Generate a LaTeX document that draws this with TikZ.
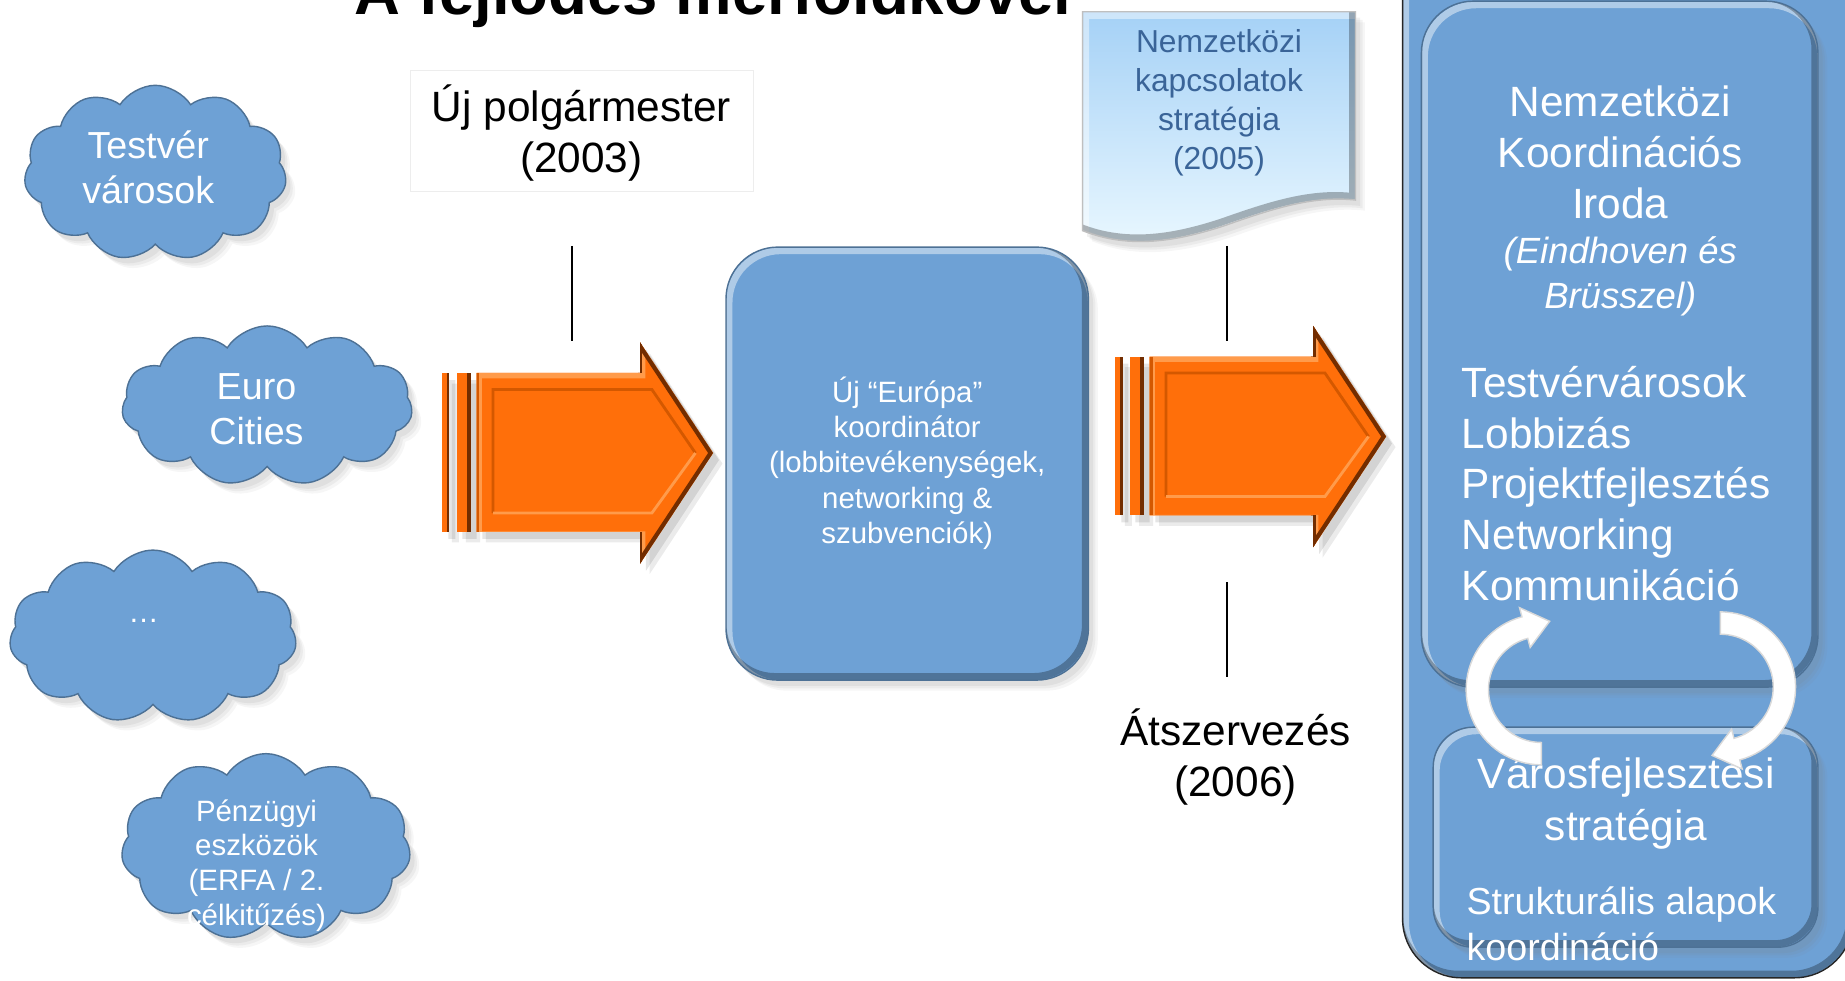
\documentclass[tikz,border=0pt]{standalone}
\usepackage{fontspec}
\setmainfont{Liberation Sans}
\usetikzlibrary{shapes.symbols,shadows}
\definecolor{cblue}{RGB}{110,161,213}
\definecolor{orng}{RGB}{255,111,10}
\definecolor{obrown}{RGB}{115,45,0}
\definecolor{odark}{RGB}{212,88,0}
\definecolor{olight}{RGB}{255,155,75}
\definecolor{doctop}{RGB}{165,209,246}
\definecolor{docbot}{RGB}{234,248,255}
\definecolor{doctext}{RGB}{58,100,152}
\newcommand\fsz[2]{\fontsize{#1}{#2}\selectfont}
\tikzset{
  softsh/.style={drop shadow={opacity=0.07,shadow xshift=4pt,shadow yshift=-4.5pt},
                 drop shadow={opacity=0.09,shadow xshift=3pt,shadow yshift=-3.5pt},
                 drop shadow={opacity=0.11,shadow xshift=2pt,shadow yshift=-2.5pt}},
  cloudsh/.style={cloud,cloud puffs=11,cloud puff arc=115,cloud ignores aspect,inner sep=0pt,outer sep=0pt},
  wtxt/.style={text=white,align=center,inner sep=0pt},
}
% bevelled shape: fill options, border colour, path
\newcommand\bevel[3]{%
  \fill[#1] #3;
  \begin{scope}
    \clip #3;
    \draw[white,opacity=0.45,line width=3pt,shift={(2.5,3)}] #3;
    \draw[black,opacity=0.28,line width=3pt,shift={(-2.5,-3)}] #3;
  \end{scope}
  \draw[#2,line width=0.6pt] #3;}
% bevelled cloud: name, centre x,y, width, height
\newcommand\bcloud[4]{%
  \node[cloudsh,softsh,minimum width=#3,minimum height=#4,fill=cblue,draw=cblue!70!black,line width=0.6pt,
    path picture={
      \node[cloudsh,minimum width=#3,minimum height=#4,draw=white,draw opacity=0.45,line width=3pt] (#1hl) at ([shift={(2.5,3)}]#2) {};
      \node[cloudsh,minimum width=#3,minimum height=#4,draw=black,draw opacity=0.28,line width=3pt] (#1dk) at ([shift={(-2.5,-3)}]#2) {};
    }] (#1) at (#2) {};}
\tikzset{oarrow/.pic={
  \fill[black,opacity=0.08,shift={(8,9)}] (405,317) -- (544,317) -- (544,291) -- (606,385) -- (544,479) -- (544,452) -- (405,452) -- cycle (376,317) rectangle (382,452) (388,317) rectangle (400,452);
  \fill[black,opacity=0.1,shift={(5,6)}] (405,317) -- (544,317) -- (544,291) -- (606,385) -- (544,479) -- (544,452) -- (405,452) -- cycle (376,317) rectangle (382,452) (388,317) rectangle (400,452);
  \fill[orng] (376,317) rectangle (382,452);
  \fill[obrown] (379.5,317) rectangle (382,452);
  \fill[orng] (388,317) rectangle (400,452);
  \fill[obrown] (396.5,317) rectangle (400,452);
  \fill[orng] (405,317) -- (544,317) -- (544,291) -- (606,385) -- (544,479) -- (544,452) -- (405,452) -- cycle;
  \begin{scope}
    \clip (405,317) -- (544,317) -- (544,291) -- (606,385) -- (544,479) -- (544,452) -- (405,452) -- cycle;
    \draw[olight,line width=2.5pt,shift={(2,2)}] (405,317) -- (544,317) -- (544,291) -- (606,385) -- (544,479) -- (544,452) -- (405,452) -- cycle;
    \draw[odark,line width=2.5pt] (405,317) -- (405,452);
    \draw[obrown,line width=3.5pt] (544,291) -- (606,385) -- (544,479);
    \draw[obrown,line width=2pt] (544,291) -- (544,317) (544,452) -- (544,479);
  \end{scope}
  \draw[odark,line width=1.2pt] (419,436) -- (419,331) -- (554,331) -- (591,385);
  \draw[olight,line width=1.2pt] (591,385) -- (554,436) -- (419,436);
  \coordinate (-tip) at (606,385);
}}
\newcommand\warrow{%
  \fill[white,draw=black!15,line width=0.6pt] plot[domain=90:255,samples=40] ({1310+64*cos(\x)},{586+64*sin(\x)})
    -- ({1310+72*cos(255)},{586+72*sin(255)}) -- (1317,528) -- ({1310+37*cos(255)},{586+37*sin(255)})
    -- plot[domain=255:90,samples=40] ({1310+45*cos(\x)},{586+45*sin(\x)}) -- cycle;}
\begin{document}
\begin{tikzpicture}[x=0.5pt,y=-0.5pt]
\useasboundingbox (0,0) rectangle (1568,833);
\clip (0,0) rectangle (1568,833);
\fill[white] (0,0) rectangle (1568,833);

% title (cut at the top)
\node[anchor=base,inner sep=0pt,font=\fsz{27}{32}\bfseries] (title) at (606,12) {A fejlődés mérföldkövei};

% new mayor
\draw[black!7,fill=white] (349,60) rectangle (640,163);
\node[align=center,inner sep=0pt,font=\fsz{18}{21.6}] (mayor) at (494,113) {Új polgármester\\(2003)};

% clouds
\bcloud{c1}{132,147}{111.5pt}{74.5pt}
\node[wtxt,font=\fsz{16}{19}] (t1) at (126,142) {Testvér\\városok};
\bcloud{c2}{227,345}{123.5pt}{68pt}
\node[wtxt,font=\fsz{16}{19}] (t2) at (218,347.5) {Euro\\Cities};
\bcloud{c3}{130,541}{122pt}{73.5pt}
\node[wtxt,anchor=base,font=\fsz{13}{15}] (t3) at (122,529) {…};
\bcloud{c4}{226,720}{123pt}{79.5pt}
\node[wtxt,font=\fsz{12.5}{14.75}] (t4) at (218,735.5) {Pénzügyi\\eszközök\\(ERFA / 2.\\célkitűzés)};

% connector lines
\coordinate (l1a) at (486,209); \coordinate (l1b) at (486,290);
\coordinate (l2a) at (1043,209); \coordinate (l2b) at (1043,290);
\coordinate (l3a) at (1043,495); \coordinate (l3b) at (1043,575);
\draw[line width=1pt] (l1a) -- (l1b);
\draw[line width=1pt] (l2a) -- (l2b);
\draw[line width=1pt] (l3a) -- (l3b);

% orange arrows
\pic (a1) at (0,0) {oarrow};
\pic (a2) at (572,-14) {oarrow};

% central box
\bevel{cblue,softsh}{cblue!70!black}{[rounded corners=22pt] (617,210) rectangle (925,578)}
\node[wtxt,font=\fsz{12.5}{15}] (coord) at (771,393.5) {Új “Európa”\\koordinátor\\(lobbitevékenységek,\\networking \&\\szubvenciók)};

% strategy document
\bevel{top color=doctop,bottom color=docbot,softsh}{black!25}{(920,10) -- (1152,10) -- (1152,170) .. controls (1115,166) and (1080,178) .. (1040,192) .. controls (1000,205) and (960,212) .. (920,196) -- cycle}
\node[align=center,inner sep=0pt,text=doctext,font=\fsz{13.5}{16.5}] (doc) at (1036,87.5) {Nemzetközi\\kapcsolatok\\stratégia\\(2005)};

% reorganisation
\node[align=center,inner sep=0pt,font=\fsz{18}{21.6}] (reorg) at (1050,643.5) {Átszervezés\\(2006)};

% right container
\bevel{cblue}{black!85}{[rounded corners=25pt] (1192,-60) rectangle (1575,831)}
\bevel{cblue,softsh}{cblue!70!black}{[rounded corners=22pt] (1208,1) rectangle (1545,584)}
\bevel{cblue,softsh}{cblue!70!black}{[rounded corners=17pt] (1218,618) rectangle (1545,805)}
\node[wtxt,font=\fsz{18}{21.75}] (office) at (1377,129.5) {Nemzetközi\\Koordinációs\\Iroda};
\node[wtxt,font=\fsz{15.5}{19}\itshape] (cities) at (1377,235) {(Eindhoven és\\Brüsszel)};
\node[wtxt,anchor=west,align=left,font=\fsz{18}{21.6}] (tasks) at (1242,411) {Testvérvárosok\\Lobbizás\\Projektfejlesztés\\Networking\\Kommunikáció};
\node[wtxt,font=\fsz{18}{22}] (urban) at (1382,683) {Városfejlesztési\\stratégia};
\node[wtxt,anchor=west,align=left,font=\fsz{16}{19.5}] (funds) at (1246,785) {Strukturális alapok\\koordináció};

% cycle arrows
\warrow
\begin{scope}[rotate around={180:(1386,585)}]
\warrow
\end{scope}
\end{tikzpicture}
\end{document}
